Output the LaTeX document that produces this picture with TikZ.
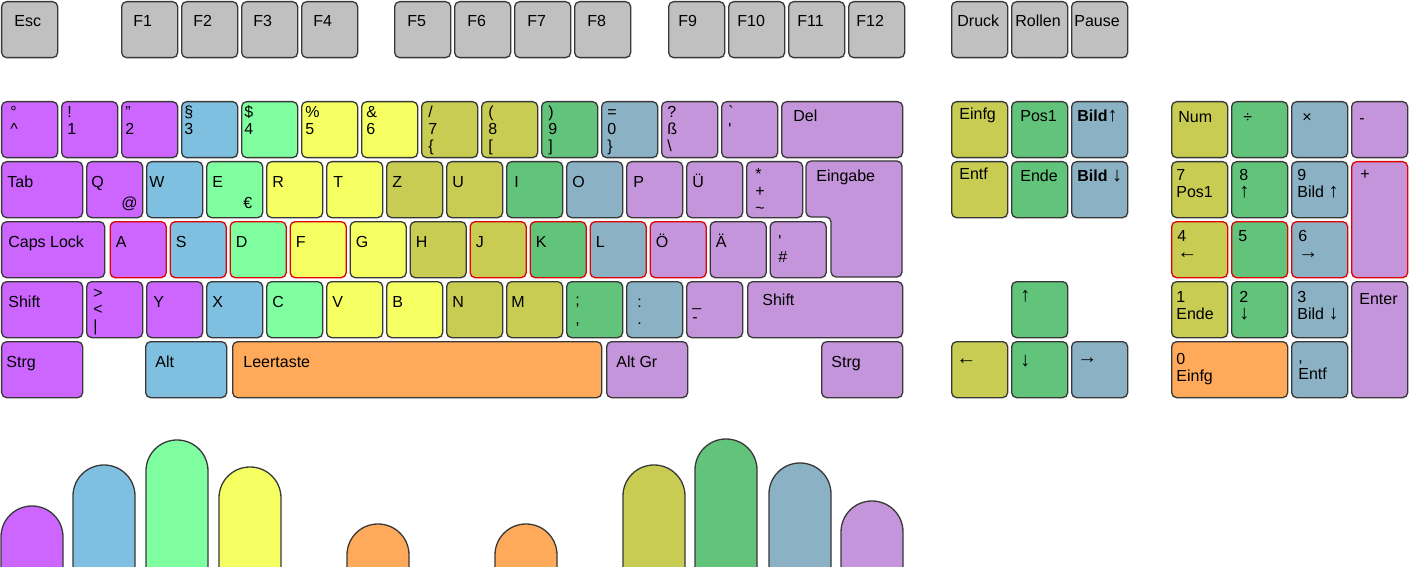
\documentclass[tikz,border=0pt]{standalone}
\usepackage{fontspec}
\setmainfont{Liberation Sans}
\definecolor{KeyGray}{HTML}{C0C0C0}
\definecolor{KeyEdge}{HTML}{383838}
\definecolor{HomeRed}{HTML}{E00000}
\definecolor{PinkyLeft}{HTML}{CC66FF}
\definecolor{RingLeft}{HTML}{7FBFDF}
\definecolor{MiddleLeft}{HTML}{80FFA0}
\definecolor{IndexLeft}{HTML}{F5FF62}
\definecolor{IndexRight}{HTML}{C8CC52}
\definecolor{MiddleRight}{HTML}{62C47B}
\definecolor{RingRight}{HTML}{8AB1C4}
\definecolor{PinkyRight}{HTML}{C495DA}
\definecolor{ThumbOrange}{HTML}{FFAA5A}
\newcommand{\keyfont}{\fontsize{8}{8.5}\selectfont}
\newcommand{\kstack}[3]{\vtop{\hbox{#1}\hbox{#2}\hbox{#3}}}
\newcommand{\karrow}[1]{{\fontsize{10}{8.5}\selectfont #1}}

\begin{document}
\begin{tikzpicture}[
    x=0.5pt,
    y=-0.5pt,
    keycap/.style={
        draw=KeyEdge,
        line width=0.65pt,
        rounded corners=2.5pt,
        inner sep=0pt,
        anchor=north west,
        minimum width=28pt,
        minimum height=28pt
    },
    keylabel/.style={
        anchor=base west,
        inner sep=0pt,
        font=\keyfont
    },
    finger/.style={
        draw=KeyEdge,
        line width=0.65pt,
        rounded corners=15.45pt
    }
]
%
    \useasboundingbox (0,0) rectangle (1409,567);
%
% function keys
    \foreach \kx/\kname/\kdx/\ktext in {
        1/esc/13/Esc, 121/fone/12/F1, 181/ftwo/12/F2, 241/fthree/12/F3,
        301/ffour/12/F4, 394/ffive/13/F5, 454/fsix/13/F6, 514/fseven/13/F7,
        574/feight/13/F8, 668/fnine/10/F9, 728/ften/9/F10, 788/feleven/9/F11,
        848/ftwelve/8/F12, 951/druck/6/Druck, 1011/rollen/4/Rollen,
        1071/pause/3/Pause}{
        \node[keycap, fill=KeyGray] (\kname) at (\kx,1) {};
        \node[keylabel] (\kname-l) at (\kx+\kdx,27) {\ktext};
    }
%
% number row
    \foreach \kx/\kname/\kcol/\kdx/\ktext in {
        1/kcirc/PinkyLeft/9/{\kstack{°}{\textasciicircum}{}},
        61/kone/PinkyLeft/6/{\kstack{!}{1}{}},
        121/ktwo/PinkyLeft/4/{\kstack{"}{2}{}},
        181/kthree/RingLeft/3/{\kstack{§}{3}{}},
        241/kfour/MiddleLeft/3/{\kstack{\$}{4}{}},
        301/kfive/IndexLeft/4/{\kstack{\%}{5}{}},
        361/ksix/IndexLeft/5/{\kstack{\&}{6}{}},
        421/kseven/IndexRight/7/{\kstack{/}{7}{\{}},
        481/keight/IndexRight/7/{\kstack{(}{8}{[}},
        541/knine/MiddleRight/7/{\kstack{)}{9}{]}},
        601/kzero/RingRight/6/{\kstack{=}{0}{\}}},
        661/ksz/PinkyRight/6/{\kstack{?}{ß}{\textbackslash}},
        721/kacc/PinkyRight/7/{\kstack{\textasciigrave}{\textquotesingle}{}}}{
        \node[keycap, fill=\kcol] (\kname) at (\kx,101) {};
        \node[keylabel] (\kname-l) at (\kx+\kdx,118) {\ktext};
    }
    \node[keycap, fill=PinkyRight, minimum width=60.5pt] (del) at (781,101) {};
    \node[keylabel] (del-l) at (793,122) {Del};
%
% top letter row
    \node[keycap, fill=PinkyLeft, minimum width=40.5pt] (tab) at (1,161) {};
    \node[keylabel] (tab-l) at (7,187) {Tab};
    \foreach \kx/\kname/\kcol/\kdx/\ktext in {
        86/kq/PinkyLeft/5/Q, 146/kw/RingLeft/3/W, 206/ke/MiddleLeft/6/E,
        266/kr/IndexLeft/6/R, 326/kt/IndexLeft/7/T, 386/kz/IndexRight/6/Z,
        446/ku/IndexRight/6/U, 506/ki/MiddleRight/8/I, 566/ko/RingRight/6/O,
        626/kp/PinkyRight/7/P, 686/kue/PinkyRight/6/Ü}{
        \node[keycap, fill=\kcol] (\kname) at (\kx,161) {};
        \node[keylabel] (\kname-l) at (\kx+\kdx,187) {\ktext};
    }
    \node[keylabel] (kq-alt) at (121,208) {@};
    \node[keylabel] (ke-alt) at (243,208) {€};
    \node[keycap, fill=PinkyRight] (kplus) at (746,161) {};
    \node[keylabel] (kplus-l) at (755,180) {\kstack{*}{+}{\textasciitilde}};
%
    \draw[
        draw=KeyEdge,
        line width=0.65pt,
        rounded corners=2.5pt,
        fill=PinkyRight
    ]
    (806,161) -- (902,161) -- (902,277) -- (831,277) -- (831,217)
    -- (806,217) -- cycle;
    \node[keylabel] (eingabe-l) at (816,182) {Eingabe};
%
% home row
    \node[keycap, fill=PinkyLeft, minimum width=51.5pt] (caps) at (1,221) {};
    \node[keylabel] (caps-l) at (8,247) {Caps Lock};
    \foreach \kx/\kname/\kcol/\kedge/\ktext in {
        109.5/ka/PinkyLeft/HomeRed/A, 169.5/ks/RingLeft/HomeRed/S,
        229.5/kd/MiddleLeft/HomeRed/D, 289.5/kf/IndexLeft/HomeRed/F,
        349.5/kg/IndexLeft/KeyEdge/G, 409.5/kh/IndexRight/KeyEdge/H,
        469.5/kj/IndexRight/HomeRed/J, 529.5/kk/MiddleRight/HomeRed/K,
        589.5/kl/RingRight/HomeRed/L, 649.5/koe/PinkyRight/HomeRed/Ö,
        709.5/kae/PinkyRight/KeyEdge/Ä}{
        \node[keycap, fill=\kcol, draw=\kedge] (\kname) at (\kx,221) {};
        \node[keylabel] (\kname-l) at (\kx+6,247) {\ktext};
    }
    \node[keycap, fill=PinkyRight] (khash) at (769.5,221) {};
    \node[keylabel] (khash-l) at (778,246) {\textquotesingle};
    \node[keylabel] (khash-m) at (778,263) {\#};
%
% bottom letter row
    \node[keycap, fill=PinkyLeft, minimum width=40.5pt] (lshift) at (1,281) {};
    \node[keylabel] (lshift-l) at (8,307) {Shift};
    \node[keycap, fill=PinkyLeft] (kless) at (86,281) {};
    \node[keylabel] (kless-l) at (93,298) {\kstack{>}{<}{|}};
    \foreach \kx/\kname/\kcol/\kdx/\ktext in {
        146/ky/PinkyLeft/7/Y, 206/kx/RingLeft/6/X, 266/kc/MiddleLeft/6/C,
        326/kv/IndexLeft/6/V, 386/kb/IndexLeft/6/B, 446/kn/IndexRight/6/N,
        506/km/IndexRight/5/M}{
        \node[keycap, fill=\kcol] (\kname) at (\kx,281) {};
        \node[keylabel] (\kname-l) at (\kx+\kdx,307) {\ktext};
    }
    \node[keycap, fill=MiddleRight] (kcomma) at (566,281) {};
    \node[keylabel] (kcomma-l) at (575,305) {;};
    \node[keylabel] (kcomma-m) at (575,324) {,};
    \node[keycap, fill=RingRight] (kdot) at (626,281) {};
    \node[keylabel] (kdot-l) at (637,307) {\kstack{:}{.}{}};
    \node[keycap, fill=PinkyRight] (kdash) at (686,281) {};
    \node[keylabel] (kdash-l) at (692,306) {\kstack{\_}{-}{}};
    \node[keycap, fill=PinkyRight, minimum width=77.5pt] (rshift) at (747,281) {};
    \node[keylabel] (rshift-l) at (762,305) {Shift};
%
% space row
    \node[keycap, fill=PinkyLeft, minimum width=40.5pt] (lstrg) at (1,341) {};
    \node[keylabel] (lstrg-l) at (6,367) {Strg};
    \node[keycap, fill=RingLeft, minimum width=40.5pt] (alt) at (145,341) {};
    \node[keylabel] (alt-l) at (155,367) {Alt};
    \node[keycap, fill=ThumbOrange, minimum width=184.5pt] (space) at (232,341) {};
    \node[keylabel] (space-l) at (243,367) {Leertaste};
    \node[keycap, fill=PinkyRight, minimum width=40.5pt] (altgr) at (606,341) {};
    \node[keylabel] (altgr-l) at (616,367) {Alt Gr};
    \node[keycap, fill=PinkyRight, minimum width=40.5pt] (rstrg) at (821,341) {};
    \node[keylabel] (rstrg-l) at (831,367) {Strg};
%
% navigation block
    \foreach \kx/\ky/\kname/\kcol/\kdx/\kdy/\ktext in {
        951/101/einfg/IndexRight/8/19/Einfg,
        1011/101/posone/MiddleRight/9/21/Pos1,
        1071/101/pgup/RingRight/6/21/{\textbf{Bild\karrow{↑}}},
        951/161/entf/IndexRight/8/19/Entf,
        1011/161/ende/MiddleRight/9/21/Ende,
        1071/161/pgdn/RingRight/6/21/{\textbf{Bild \karrow{↓}}},
        1011/281/up/MiddleRight/9/20/{\karrow{↑}},
        951/341/left/IndexRight/5/23/{\karrow{←}},
        1011/341/down/MiddleRight/9/25/{\karrow{↓}},
        1071/341/right/RingRight/6/22/{\karrow{→}}}{
        \node[keycap, fill=\kcol] (\kname) at (\kx,\ky) {};
        \node[keylabel] (\kname-l) at (\kx+\kdx,\ky+\kdy) {\ktext};
    }
%
% number pad
    \foreach \kx/\ky/\kname/\kcol/\kedge/\kdx/\kdy/\ktext in {
        1171/101/num/IndexRight/KeyEdge/7/22/Num,
        1231/101/div/MiddleRight/KeyEdge/12/22/÷,
        1291/101/mul/RingRight/KeyEdge/11/22/×,
        1351/101/sub/PinkyRight/KeyEdge/8/23/-,
        1171/161/pseven/IndexRight/KeyEdge/5/20/{\kstack{7}{Pos1}{}},
        1231/161/peight/MiddleRight/KeyEdge/8/20/{\kstack{8}{\karrow{↑}}{}},
        1291/161/pnine/RingRight/KeyEdge/6/20/{\kstack{9}{Bild \karrow{↑}}{}},
        1171/221/pfour/IndexRight/HomeRed/6/21/{\kstack{4}{\karrow{←}}{}},
        1231/221/pfive/MiddleRight/HomeRed/7/21/5,
        1291/221/psix/RingRight/HomeRed/7/21/{\kstack{6}{\karrow{→}}{}},
        1171/281/pone/IndexRight/KeyEdge/5/21/{\kstack{1}{Ende}{}},
        1231/281/ptwo/MiddleRight/KeyEdge/8/21/{\kstack{2}{\karrow{↓}}{}},
        1291/281/pthree/RingRight/KeyEdge/6/21/{\kstack{3}{Bild \karrow{↓}}{}},
        1291/341/pdel/RingRight/KeyEdge/7/21/{\kstack{,}{Entf}{}}}{
        \node[keycap, fill=\kcol, draw=\kedge] (\kname) at (\kx,\ky) {};
        \node[keylabel] (\kname-l) at (\kx+\kdx,\ky+\kdy) {\ktext};
    }
    \node[keycap, fill=PinkyRight, draw=HomeRed, minimum height=58pt] (add) at (1351,161) {};
    \node[keylabel] (add-l) at (1360,180) {+};
    \node[keycap, fill=PinkyRight, minimum height=58pt] (enter) at (1351,281) {};
    \node[keylabel] (enter-l) at (1359,304) {Enter};
    \node[keycap, fill=ThumbOrange, minimum width=58pt] (pzero) at (1171,341) {};
    \node[keylabel] (pzero-l) at (1176,364) {\kstack{0}{Einfg}{}};
%
% fingers
    \foreach \fa/\fb/\ft/\fcol in {
        1/63/506/PinkyLeft, 73/135/465/RingLeft, 146/208/440/MiddleLeft,
        219/281/467/IndexLeft, 347/409/524/ThumbOrange, 495/557/524/ThumbOrange,
        623/685/465/IndexRight, 695/757/439/MiddleRight, 769/831/463/RingRight,
        841/903/501/PinkyRight}{
        \draw[finger, fill=\fcol]
        (\fa,568) -- (\fa,\ft) -- (\fb,\ft) -- (\fb,568);
    }
%
\end{tikzpicture}
\end{document}
